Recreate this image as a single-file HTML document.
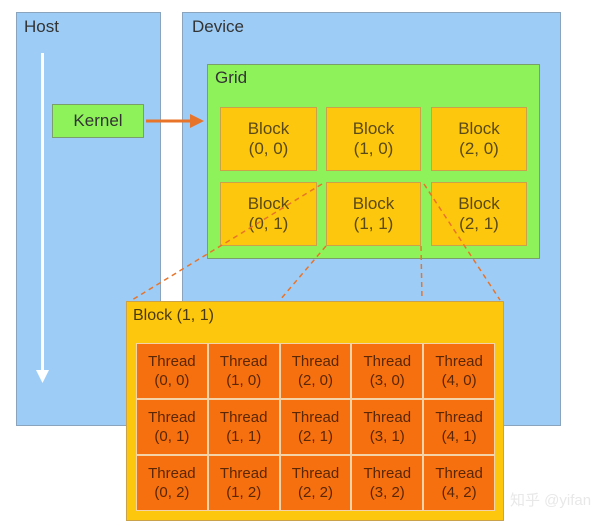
<!DOCTYPE html>
<html><head><style>
body{margin:0;width:600px;height:527px;background:#fff;position:relative;overflow:hidden;font-family:"Liberation Sans","Noto Sans CJK SC",sans-serif;color:#5a4a10}
div{position:absolute;box-sizing:border-box}
.blue{background:#9dcdf7;border:1px solid #8aa4bd}
.lbl{font-size:17px;color:#333}
.blk{background:#fdc70d;border:1px solid #c9a24a;text-align:center;font-size:17px;line-height:20px;padding-top:11px;color:#5a4a1a}
.th{background:#f6700f;text-align:center;font-size:15px;line-height:19px;padding-top:8px;color:#5a2604;border:1px solid #f4d3a8}
</style></head><body>
<div class="blue" style="left:16px;top:12px;width:145px;height:414px"></div>
<div class="lbl" style="left:24px;top:17px">Host</div>
<div class="blue" style="left:182px;top:12px;width:379px;height:414px"></div>
<div class="lbl" style="left:192px;top:17px">Device</div>
<div style="left:41px;top:53px;width:3px;height:320px;background:#fff"></div>
<svg style="position:absolute;left:0;top:0" width="600" height="527">
<polygon points="36,370 49,370 42.5,383" fill="#fff"/>
</svg>
<div style="left:52px;top:104px;width:92px;height:34px;background:#8ef25a;border:1px solid #7a9f6a;font-size:17px;text-align:center;line-height:32px;color:#333">Kernel</div>
<div style="left:207px;top:64px;width:333px;height:195px;background:#8ef25a;border:1px solid #7a9f6a"></div>
<div class="lbl" style="left:215px;top:68px">Grid</div>
<div class="blk" style="left:220px;top:107px;width:97px;height:64px">Block<br>(0, 0)</div>
<div class="blk" style="left:326px;top:107px;width:95px;height:64px">Block<br>(1, 0)</div>
<div class="blk" style="left:431px;top:107px;width:96px;height:64px">Block<br>(2, 0)</div>
<div class="blk" style="left:220px;top:182px;width:97px;height:64px">Block<br>(0, 1)</div>
<div class="blk" style="left:326px;top:182px;width:95px;height:64px">Block<br>(1, 1)</div>
<div class="blk" style="left:431px;top:182px;width:96px;height:64px">Block<br>(2, 1)</div>
<div style="left:126px;top:301px;width:378px;height:220px;background:#fdc70d;border:1px solid #c9a24a"></div>
<div style="left:133px;top:307px;font-size:16px;color:#4a3a10">Block (1, 1)</div>
<div style="left:136px;top:343px;width:359px;height:168px;display:grid;grid-template-columns:repeat(5,1fr);grid-template-rows:repeat(3,1fr);position:absolute">
<div class="th" style="position:relative">Thread<br>(0, 0)</div><div class="th" style="position:relative">Thread<br>(1, 0)</div><div class="th" style="position:relative">Thread<br>(2, 0)</div><div class="th" style="position:relative">Thread<br>(3, 0)</div><div class="th" style="position:relative">Thread<br>(4, 0)</div>
<div class="th" style="position:relative">Thread<br>(0, 1)</div><div class="th" style="position:relative">Thread<br>(1, 1)</div><div class="th" style="position:relative">Thread<br>(2, 1)</div><div class="th" style="position:relative">Thread<br>(3, 1)</div><div class="th" style="position:relative">Thread<br>(4, 1)</div>
<div class="th" style="position:relative">Thread<br>(0, 2)</div><div class="th" style="position:relative">Thread<br>(1, 2)</div><div class="th" style="position:relative">Thread<br>(2, 2)</div><div class="th" style="position:relative">Thread<br>(3, 2)</div><div class="th" style="position:relative">Thread<br>(4, 2)</div>
</div>
<svg style="position:absolute;left:0;top:0" width="600" height="527">
<line x1="146" y1="121" x2="192" y2="121" stroke="#e8742a" stroke-width="3"/>
<polygon points="190,114 204,121 190,128" fill="#e8742a"/>
<g stroke="#e8742a" stroke-width="1.5" stroke-dasharray="5,4" fill="none">
<line x1="322" y1="184" x2="132" y2="300"/>
<line x1="326" y1="246" x2="280" y2="300"/>
<line x1="421" y1="246" x2="422" y2="300"/>
<line x1="424" y1="184" x2="500" y2="300"/>
</g>
<text x="510" y="505" font-size="15" fill="#e8e8e8" font-family="Liberation Sans, Noto Sans CJK SC, sans-serif">知乎 @yifan</text>
</svg>
</body></html>
